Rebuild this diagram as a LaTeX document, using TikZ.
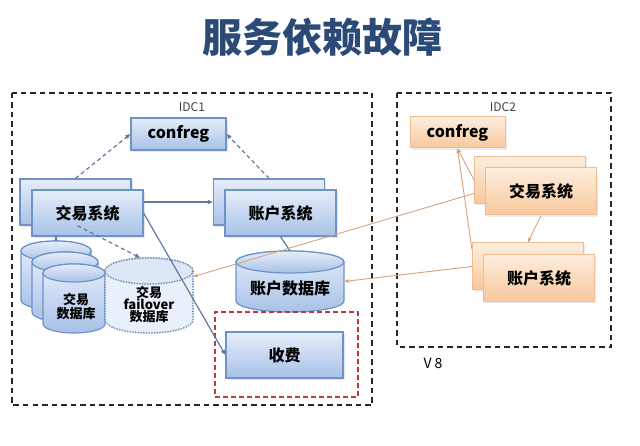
\documentclass[tikz,border=0pt]{standalone}
\usepackage{fontspec}
\setmainfont{Noto Sans CJK SC}
\usetikzlibrary{arrows.meta,shadows,calc}
\definecolor{blueTop}{HTML}{E6EEFA}
\definecolor{blueBot}{HTML}{A7C1E7}
\definecolor{blueLine}{HTML}{6F93C9}
\definecolor{blueCap}{HTML}{DCE7F7}
\definecolor{orTop}{HTML}{FDEDDD}
\definecolor{orBot}{HTML}{F8C89C}
\definecolor{orLine}{HTML}{F0BD92}
\definecolor{titleBlue}{HTML}{2B4A78}
\definecolor{conn}{HTML}{5E7A9E}
\definecolor{connOr}{HTML}{D9A47C}
\definecolor{redDash}{HTML}{C4373A}
\definecolor{dotLine}{HTML}{7C93B5}
\newcommand\dbdraw[6]{%
  \path[#1] (#2-#4,#3) -- (#2-#4,#6) arc[start angle=180,end angle=360,x radius=#4pt,y radius=#5pt]
    -- (#2+#4,#3) arc[start angle=0,end angle=180,x radius=#4pt,y radius=#5pt] -- cycle;
  \path[#1,fill=blueCap] (#2,#3) ellipse[x radius=#4pt,y radius=#5pt];
}
\tikzset{
  bbox/.style={draw=blueLine, line width=1.2pt, top color=blueTop, bottom color=blueBot,
    minimum width=111pt, minimum height=46pt, inner sep=0pt,
    font=\bfseries\fontsize{16}{18}\selectfont,
    drop shadow={opacity=0.2, shadow xshift=1.5pt, shadow yshift=-2pt}},
  obox/.style={draw=orLine, line width=1pt, top color=orTop, bottom color=orBot,
    minimum width=111pt, minimum height=47pt, inner sep=0pt,
    font=\bfseries\fontsize{16}{18}\selectfont,
    drop shadow={opacity=0.15, shadow xshift=1.5pt, shadow yshift=-2pt}},
  dbbody/.style={draw=blueLine, line width=1.2pt, top color=blueTop, bottom color=blueBot},
  fobody/.style={draw=dotLine, line width=2pt, dash pattern=on 0.1pt off 2.6pt, line cap=round, fill=blueTop, fill opacity=0.9},
  ghost/.style={inner sep=0pt, draw=none},
  frame/.style={draw=black!85, line width=1.4pt, dash pattern=on 5.5pt off 4pt},
  dconn/.style={draw=conn, line width=1.2pt, dash pattern=on 4pt off 3pt, -{Triangle[length=5pt,width=4pt]}},
  sconn/.style={draw=conn, line width=1.2pt, -{Triangle[length=5pt,width=4pt]}},
  sline/.style={draw=conn, line width=1.2pt},
  oconn/.style={draw=connOr, line width=0.9pt, -{Triangle[length=4.5pt,width=3.5pt]}},
  lbl/.style={font=\fontsize{12}{14}\selectfont, text=black!75},
  dbtxt/.style={font=\bfseries\fontsize{13}{15}\selectfont, align=center}
}
\begin{document}
\begin{tikzpicture}[x=1pt,y=-1pt]
\useasboundingbox (0,0) rectangle (640,446);
% title
\node[font=\bfseries\fontsize{40}{44}\selectfont, text=titleBlue] (title) at (322,37) {服务依赖故障};
% frames
\draw[frame] (12,93) rectangle (372,405);
\draw[frame] (397,93) rectangle (611,347);
\node[lbl] (idc1) at (192,107) {IDC1};
\node[lbl] (idc2) at (503,107) {IDC2};
\node[font=\fontsize{14}{16}\selectfont] (v8) at (433,363) {V 8};
% IDC1
\node[bbox, minimum width=95pt, minimum height=32pt] (c1) at (178.5,134) {confreg};
\node[bbox] (tb) at (75.5,202) {};
\node[bbox] (tf) at (87.5,213) {交易系统};
\node[bbox] (ab) at (269,202) {};
\node[bbox] (af) at (280.5,213) {账户系统};
% databases
\dbdraw{dbbody}{56}{251}{35}{10}{300}
\dbdraw{dbbody}{65}{262}{33}{10}{312}
\dbdraw{dbbody}{74}{273}{31}{9}{324}
\node[ghost, minimum width=70pt, minimum height=69pt] (db1) at (56,275.5) {};
\node[dbtxt] (dbt) at (76,307) {交易\\[-1pt]数据库};
\dbdraw{fobody}{149}{271}{44}{13}{320}
\node[ghost, minimum width=88pt, minimum height=75pt] (fdb) at (149,295.5) {};
\node[dbtxt] (fdbt) at (149,305) {交易\\[-3pt]failover\\[-3pt]数据库};
\dbdraw{dbbody}{290}{262}{54}{11}{301}
\node[ghost, minimum width=108pt, minimum height=61pt] (adb) at (290,281.5) {};
\node[font=\bfseries\fontsize{16}{18}\selectfont] (adbt) at (290,288) {账户数据库};
% fee
\node[draw=redDash, line width=2.4pt, dash pattern=on 5pt off 3pt, minimum width=143pt, minimum height=85pt] (feebox) at (286.5,354.5) {};
\node[bbox, minimum width=117pt] (fee) at (284.5,355) {收费};
% IDC2
\node[obox, minimum width=95pt, minimum height=31pt] (c2) at (457.5,132.5) {confreg};
\node[obox] (tb2) at (530,180) {};
\node[obox] (tf2) at (541,191.5) {交易系统};
\node[obox] (ab2) at (528,266.5) {};
\node[obox] (af2) at (539,278) {账户系统};
% connectors IDC1
\draw[dconn] (tb.north) -- (c1.west);
\draw[dconn] (ab.north) -- (c1.east);
\draw[sconn] (tf.east |- ab.west) -- (ab.west);
\draw[sline] (tf.south -| db1.center) -- (db1.north);
\draw[dconn] ($(tf.south)+(-10,-11)$) -- ($(fdb.north west)!0.4!(fdb.north east)$);
\draw[sconn] (tf.east) -- (fee.west);
\draw[sline] (af.south) -- (adb.north);
% connectors IDC2
\draw[oconn] (tf2.south) -- (ab2.north);
\draw[oconn] (tb2.west) -- (c2.south);
\draw[oconn] ($(ab2.north west)!0.15!(ab2.south west)$) -- (c2.south);
\draw[oconn] ($(tb2.north west)!0.78!(tb2.south west)$) -- ($(fdb.north east)!0.25!(fdb.south east)$);
\draw[oconn] (ab2.west) -- (adb.east);
\end{tikzpicture}
\end{document}
